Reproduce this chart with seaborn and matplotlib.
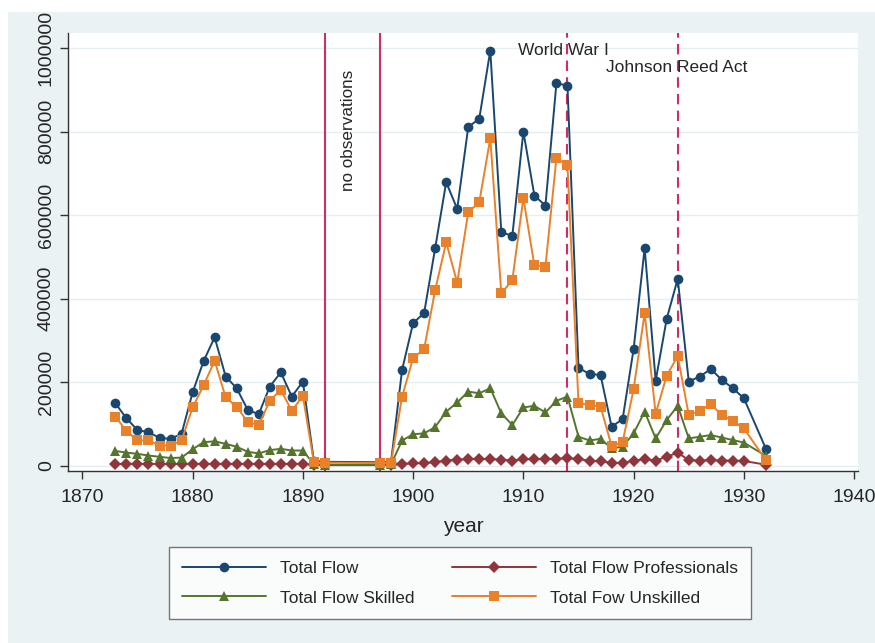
import matplotlib
matplotlib.use("Agg")
import matplotlib.pyplot as plt
from matplotlib.patches import Rectangle
import seaborn as sns
import pandas as pd

# data
years = list(range(1873, 1893)) + list(range(1897, 1931)) + [1932]

total_flow = [150000, 114000, 86000, 81000, 67000, 65000, 77000, 176000, 251000, 308000,
              214000, 186000, 134000, 124000, 190000, 224000, 166000, 202000, 12000, 10000,
              9000, 10000, 230000, 342000, 366000, 521000, 679000, 615000, 811000, 831000,
              994000, 559000, 551000, 800000, 647000, 623000, 916000, 910000,
              235000, 220000, 218000, 94000, 112000, 280000, 521000, 204000, 352000, 448000,
              202000, 214000, 232000, 206000, 186000, 162000, 41000]

professionals = [5000, 5000, 5000, 5000, 5000, 5000, 5000, 5000, 5000, 5000,
                 5000, 5000, 5000, 5000, 5000, 5000, 5000, 5000, 3000, 2000,
                 2000, 3000, 5000, 6000, 7000, 9000, 13000, 15000, 17000, 17000,
                 17000, 15000, 13000, 16000, 16000, 17000, 17000, 19000,
                 16000, 13000, 11000, 8000, 7000, 13000, 16000, 13000, 22000, 32000,
                 14000, 13000, 14000, 13000, 13000, 12000, 3000]

skilled = [36000, 32000, 29000, 25000, 22000, 19000, 20000, 40000, 57000, 59000,
           53000, 46000, 34000, 30000, 38000, 41000, 37000, 37000, 4000, 3000,
           3000, 4000, 61000, 76000, 78000, 93000, 130000, 152000, 178000, 174000,
           186000, 126000, 98000, 140000, 144000, 128000, 156000, 166000,
           70000, 61000, 65000, 42000, 46000, 78000, 130000, 66000, 110000, 144000,
           66000, 70000, 74000, 68000, 62000, 56000, 24000]

unskilled = [118000, 84000, 61000, 61000, 49000, 49000, 61000, 140000, 193000, 252000,
             164000, 142000, 105000, 98000, 156000, 182000, 132000, 168000, 9000, 8000,
             7000, 8000, 166000, 258000, 280000, 421000, 535000, 439000, 607000, 631000,
             784000, 413000, 445000, 641000, 480000, 477000, 737000, 719000,
             150000, 146000, 142000, 48000, 57000, 184000, 366000, 125000, 216000, 263000,
             122000, 132000, 148000, 122000, 108000, 90000, 14000]

solid_lines = [1892, 1897]
dashed_lines = [1914, 1924]

df = pd.DataFrame({"year": years, "Total Flow": total_flow,
                   "Total Flow Professionals": professionals,
                   "Total Flow Skilled": skilled,
                   "Total Fow Unskilled": unskilled})

sns.set_style("white")
plt.rcParams['font.family'] = ['Liberation Sans', 'DejaVu Sans']

fig = plt.figure(figsize=(8.75, 6.43), dpi=100, facecolor="white")
fig.add_artist(Rectangle((8 / 875, 0), 1 - 8 / 875, 1 - 12 / 643, transform=fig.transFigure,
                         facecolor="#eaf2f3", edgecolor="none", zorder=-5))
ax = fig.add_axes([68 / 875, 1 - 471 / 643, 790 / 875, 438 / 643])
ax.set_facecolor("white")

styles = [("Total Flow", "o", "#1a476f", 7),
          ("Total Flow Professionals", "D", "#90353b", 6.5),
          ("Total Flow Skilled", "^", "#55752f", 7),
          ("Total Fow Unskilled", "s", "#e8812a", 6.5)]
handles = {}
for col, mk, c, ms in styles:
    sns.lineplot(data=df, x="year", y=col, marker=mk, color=c, markersize=ms,
                 markeredgewidth=0, linewidth=1.4, ax=ax, label=col, legend=False)
    handles[col] = ax.lines[-1]

for yr in solid_lines:
    ax.axvline(yr, color="#cf2e63", lw=1.5, zorder=1)
for yr in dashed_lines:
    ax.axvline(yr, color="#cf2e63", lw=1.5, dashes=(5, 3), zorder=1)

ax.text(1894.1, 804000, "no observations", rotation=90, ha="center", va="center", fontsize=12.3)
ax.text(1909.5, 994000, "World War I", ha="left", va="center", fontsize=12.5)
ax.text(1917.5, 953000, "Johnson Reed Act", ha="left", va="center", fontsize=12.5)

ax.set_xlim(1868.7, 1940.35)
ax.set_ylim(-12000, 1036000)
ax.set_xticks(range(1870, 1941, 10))
ax.set_yticks(range(0, 1000001, 200000))
ax.ticklabel_format(axis="y", style="plain", useOffset=False)
ax.yaxis.grid(True, color="#e4eef0", lw=1)
ax.set_axisbelow(True)
for s in ["top", "right"]:
    ax.spines[s].set_visible(False)
for s in ["left", "bottom"]:
    ax.spines[s].set_color("#333333")
    ax.spines[s].set_linewidth(1)
ax.tick_params(axis="both", direction="out", length=6, width=1, color="#333333",
               labelsize=14, left=True, bottom=True)
ax.tick_params(axis="x", pad=7)
ax.tick_params(axis="y", labelrotation=90)
for t in ax.get_yticklabels():
    t.set_va("center")
ax.set_xlabel("year", fontsize=15, labelpad=8)
ax.set_ylabel("")

order = ["Total Flow", "Total Flow Skilled", "Total Flow Professionals", "Total Fow Unskilled"]
leg = fig.legend([handles[k] for k in order], order, ncol=2, loc="center",
                 bbox_to_anchor=(460 / 875, 1 - 583 / 643), fontsize=12.5,
                 frameon=True, fancybox=False, edgecolor="#555555", facecolor="white",
                 handlelength=4.8, handletextpad=0.8, columnspacing=2.2, labelspacing=0.85,
                 borderpad=0.75)
leg.get_frame().set_linewidth(1)

fig.savefig("out.png", dpi=100, facecolor=fig.get_facecolor())
